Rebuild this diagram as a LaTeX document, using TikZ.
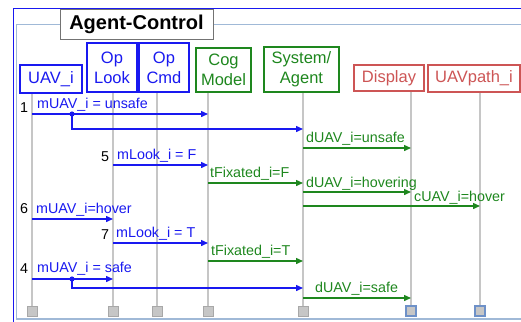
\documentclass[tikz,border=0pt]{standalone}
\usepackage{fontspec}
\setmainfont{Liberation Sans}
\usetikzlibrary{arrows.meta}
\definecolor{ublue}{RGB}{25,25,240}
\definecolor{ugreen}{RGB}{30,135,30}
\definecolor{ured}{RGB}{205,85,85}
\definecolor{lifegray}{RGB}{198,198,198}
\definecolor{framelt}{RGB}{160,185,215}
\definecolor{endblue}{RGB}{110,145,200}
\tikzset{
  head/.style={draw, line width=1.8bp, fill=white, inner sep=0pt, align=center,
    font=\fontsize{16.5bp}{20bp}\selectfont},
  bluehead/.style={head, draw=ublue, text=ublue},
  greenhead/.style={head, draw=ugreen, text=ugreen},
  redhead/.style={head, draw=ured, text=ured},
  lifeline/.style={draw=lifegray, line width=2bp},
  endbox/.style={fill=lifegray, draw=lifegray!85!black, line width=0.4bp, minimum size=10bp, inner sep=0pt},
  endboxb/.style={endbox, draw=endblue, line width=1.2bp},
  bmsg/.style={draw=ublue, line width=1.4bp, -{Triangle[length=7bp,width=6bp]}},
  gmsg/.style={draw=ugreen, line width=1.4bp, -{Triangle[length=7bp,width=6bp]}},
  blab/.style={anchor=base west, inner sep=0pt, text=ublue, font=\fontsize{14.3bp}{16bp}\selectfont},
  glab/.style={anchor=base west, inner sep=0pt, text=ugreen, font=\fontsize{14.3bp}{16bp}\selectfont},
  numlab/.style={anchor=base west, inner sep=0pt, text=black, font=\fontsize{14.3bp}{16bp}\selectfont},
  bdot/.style={fill=ublue}
}
\begin{document}
\begin{tikzpicture}[x=1bp,y=-1bp]
\useasboundingbox (0,0) rectangle (521,321);
% frame of the interaction
\draw[ublue, line width=1.6bp] (13.5,330) -- (13.5,8.5) -- (530,8.5);
\draw[framelt, line width=1.1bp] (530,319) -- (16.8,319) -- (16.8,24.5) -- (530,24.5);
\node[draw=black!55, line width=0.8bp, fill=white, minimum width=153bp, minimum height=30bp,
  font=\fontsize{20bp}{22bp}\selectfont\bfseries] (title) at (136.5,24) {Agent-Control};

% lifeline coordinates
\coordinate (tUAV) at (32,93);   \coordinate (bUAV) at (32,306);
\coordinate (tLook) at (113,92); \coordinate (bLook) at (113,306);
\coordinate (tCmd) at (157,92);  \coordinate (bCmd) at (157,306);
\coordinate (tCog) at (208,92);  \coordinate (bCog) at (208,306);
\coordinate (tSys) at (303,92);  \coordinate (bSys) at (303,306);
\coordinate (tDisp) at (411,91); \coordinate (bDisp) at (411,306);
\coordinate (tPath) at (480,92); \coordinate (bPath) at (480,306);

\foreach \p in {UAV,Look,Cmd,Cog,Sys,Disp,Path}
  \draw[lifeline] (t\p) -- (b\p);

% participant heads
\node[bluehead, minimum width=62bp, minimum height=28bp] (hUAV) at (51,79) {UAV\_i};
\node[bluehead, minimum width=50bp, minimum height=49bp] (hLook) at (112,67.5) {Op\\Look};
\node[bluehead, minimum width=50bp, minimum height=49bp] (hCmd) at (164,67.5) {Op\\Cmd};
\node[greenhead, minimum width=55bp, minimum height=44bp] (hCog) at (223.5,70) {Cog\\Model};
\node[greenhead, minimum width=75bp, minimum height=45bp] (hSys) at (301.5,69.5) {System/\\Agent};
\node[redhead, minimum width=70bp, minimum height=26bp] (hDisp) at (389,78) {Display};
\node[redhead, minimum width=92bp, minimum height=27bp] (hPath) at (474,78.5) {UAVpath\_i};

% lifeline ends
\node[endbox] (eUAV) at (32,311) {};
\node[endbox] (eLook) at (113,311) {};
\node[endbox] (eCmd) at (157,311) {};
\node[endbox] (eCog) at (208,311) {};
\node[endbox] (eSys) at (303,311) {};
\node[endboxb] (eDisp) at (411,311) {};
\node[endboxb] (ePath) at (480,311) {};

% step 1
\node[numlab] (n1) at (20,112) {1};
\node[blab] (m1) at (37,108) {mUAV\_i = unsafe};
\draw[bmsg] (tUAV |- 0,114) -- (tCog |- 0,114);
\coordinate (d1) at (72,114);
\draw[bmsg] (d1) -- (72,129) -- (tSys |- 0,129);
\fill[bdot] (d1) circle (2.6bp);
\node[glab] (g1) at (306,142) {dUAV\_i=unsafe};
\draw[gmsg] (tSys |- 0,148) -- (tDisp |- 0,148);

% step 5
\node[numlab] (n5) at (101,161) {5};
\node[blab] (m5) at (117,159) {mLook\_i = F};
\draw[bmsg] (tLook |- 0,165) -- (tCog |- 0,165);
\node[glab] (g5a) at (210,177) {tFixated\_i=F};
\draw[gmsg] (tCog |- 0,183) -- (tSys |- 0,183);
\node[glab] (g5b) at (306,187) {dUAV\_i=hovering};
\draw[gmsg] (tSys |- 0,192) -- (tDisp |- 0,192);
\node[glab] (g5c) at (414,201) {cUAV\_i=hover};
\draw[gmsg] (tSys |- 0,206) -- (tPath |- 0,206);

% step 6
\node[numlab] (n6) at (20,213) {6};
\node[blab] (m6) at (36,213) {mUAV\_i=hover};
\draw[bmsg] (tUAV |- 0,219) -- (tLook |- 0,219);

% step 7
\node[numlab] (n7) at (101,239) {7};
\node[blab] (m7) at (116,237) {mLook\_i = T};
\draw[bmsg] (tLook |- 0,243) -- (tCog |- 0,243);
\node[glab] (g7) at (211,255) {tFixated\_i=T};
\draw[gmsg] (tCog |- 0,261) -- (tSys |- 0,261);

% step 4
\node[numlab] (n4) at (20,273) {4};
\node[blab] (m4) at (37,272) {mUAV\_i = safe};
\draw[bmsg] (tUAV |- 0,279) -- (tLook |- 0,279);
\coordinate (d4) at (72,279);
\draw[bmsg] (d4) -- (72,288) -- (tSys |- 0,288);
\fill[bdot] (d4) circle (2.6bp);
\node[glab] (g4) at (315,292) {dUAV\_i=safe};
\draw[gmsg] (tSys |- 0,298) -- (tDisp |- 0,298);
\end{tikzpicture}
\end{document}
